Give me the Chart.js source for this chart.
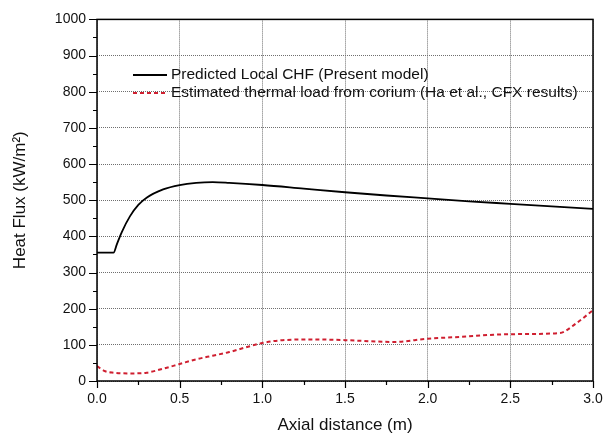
<!DOCTYPE html>
<html>
<head>
<meta charset="utf-8">
<title>Heat flux vs axial distance</title>
<script src="https://cdn.jsdelivr.net/npm/chart.js@4/dist/chart.umd.min.js"></script>
<style>
    html, body { margin: 0; padding: 0; background: #fff; }
    #wrap { width: 605px; height: 436px; }
</style>
</head>
<body>
<div id="wrap"><canvas id="chart" width="605" height="436"></canvas></div>
<script>
// Predicted local CHF (present model)
const chfX = [0, 0.05, 0.1, 0.12, 0.15, 0.2, 0.25, 0.3, 0.4, 0.5, 0.6, 0.7, 0.8, 1.0, 1.25, 1.5, 1.75, 2.0, 2.25, 2.5, 2.75, 3.0];
const chfY = [355, 355, 355, 378, 412, 456, 487, 507, 530, 542, 548, 550, 548, 542, 532, 522, 513, 505, 497, 490, 483, 476];

// Estimated thermal load from corium (Ha et al., CFX results)
const loadX = [0, 0.05, 0.1, 0.2, 0.3, 0.4, 0.5, 0.6, 0.7, 0.8, 0.9, 1.0, 1.1, 1.3, 1.5, 1.7, 1.8, 2.0, 2.2, 2.4, 2.6, 2.8, 2.9, 3.0];
const loadY = [41, 27, 23, 21, 23, 34, 47, 60, 70, 80, 93, 105, 112, 115, 113, 109, 108, 117, 122, 128, 130, 133, 160, 196];

const seriesLabels = [
    'Predicted Local CHF (Present model)',
    'Estimated thermal load from corium (Ha et al., CFX results)'
];

const FONT = '"Liberation Sans", Arial, sans-serif';
const RED = '#cf1f30';
const GRID = '#6f6f6f';

const toPoints = (xs, ys) => xs.map((x, i) => ({ x: x, y: ys[i] }));

// frame, minor/major tick marks and the in-plot legend
const framePlugin = {
    id: 'frame',
    afterDraw(chart) {
        const { ctx, chartArea: a, scales } = chart;
        ctx.save();
        ctx.strokeStyle = '#000';
        ctx.lineWidth = 1.5;
        ctx.strokeRect(a.left, a.top, a.right - a.left, a.bottom - a.top);

        ctx.lineWidth = 1.2;
        ctx.beginPath();
        for (let v = 0; v <= 1000; v += 50) {
            const y = Math.round(scales.y.getPixelForValue(v)) + 0.5;
            const len = v % 100 === 0 ? 8 : 4;
            ctx.moveTo(a.left - len, y);
            ctx.lineTo(a.left, y);
        }
        for (let i = 0; i <= 12; i++) {
            const x = Math.round(scales.x.getPixelForValue(i * 0.25)) + 0.5;
            const len = i % 2 === 0 ? 7 : 4;
            ctx.moveTo(x, a.bottom);
            ctx.lineTo(x, a.bottom + len);
        }
        ctx.stroke();

        // legend
        const lx = 133, tx = 171;
        const rows = [75, 93];
        ctx.lineWidth = 1.8;
        ctx.strokeStyle = '#000';
        ctx.beginPath();
        ctx.moveTo(lx, rows[0]);
        ctx.lineTo(lx + 34, rows[0]);
        ctx.stroke();
        ctx.strokeStyle = RED;
        ctx.lineWidth = 2;
        ctx.setLineDash([4, 3]);
        ctx.beginPath();
        ctx.moveTo(lx, rows[1]);
        ctx.lineTo(lx + 34, rows[1]);
        ctx.stroke();
        ctx.setLineDash([]);

        ctx.fillStyle = '#111';
        ctx.font = '15.5px ' + FONT;
        ctx.textBaseline = 'middle';
        ctx.textAlign = 'left';
        seriesLabels.forEach((t, i) => ctx.fillText(t, tx, rows[i]));
        ctx.restore();
    }
};

new Chart(document.getElementById('chart'), {
    type: 'line',
    data: {
        datasets: [{
            label: seriesLabels[0],
            data: toPoints(chfX, chfY),
            borderColor: '#000',
            borderWidth: 1.8,
            pointRadius: 0,
            cubicInterpolationMode: 'monotone',
            fill: false
        }, {
            label: seriesLabels[1],
            data: toPoints(loadX, loadY),
            borderColor: RED,
            borderWidth: 2,
            borderDash: [4, 3],
            pointRadius: 0,
            cubicInterpolationMode: 'monotone',
            fill: false
        }]
    },
    options: {
        responsive: false,
        animation: false,
        layout: { padding: { left: 0, right: 0, top: 16, bottom: 0 } },
        plugins: {
            legend: { display: false },
            tooltip: { enabled: false }
        },
        scales: {
            x: {
                type: 'linear',
                min: 0,
                max: 3,
                afterFit: (s) => { s.height = 55; s.paddingRight = 12; s.paddingLeft = 0; },
                ticks: {
                    stepSize: 0.5,
                    padding: 10,
                    color: '#111',
                    font: { family: FONT, size: 14 },
                    maxRotation: 0,
                    callback: (v) => Number(v).toFixed(1)
                },
                grid: { color: GRID, lineWidth: 1, drawTicks: false },
                border: { display: false, dash: [1, 1] },
                title: {
                    display: true,
                    text: 'Axial distance (m)',
                    color: '#111',
                    font: { family: FONT, size: 17 },
                    padding: { top: 4, bottom: 0 }
                }
            },
            y: {
                min: 0,
                max: 1000,
                afterFit: (s) => { s.width = 97; },
                ticks: {
                    stepSize: 100,
                    padding: 11,
                    color: '#111',
                    font: { family: FONT, size: 14 },
                    callback: (v) => String(v)
                },
                grid: { color: GRID, lineWidth: 1, drawTicks: false },
                border: { display: false, dash: [1, 1] },
                title: {
                    display: true,
                    text: 'Heat Flux (kW/m²)',
                    color: '#111',
                    font: { family: FONT, size: 17 },
                    padding: { top: 10, bottom: 0 }
                }
            }
        }
    },
    plugins: [framePlugin]
});
</script>
</body>
</html>
